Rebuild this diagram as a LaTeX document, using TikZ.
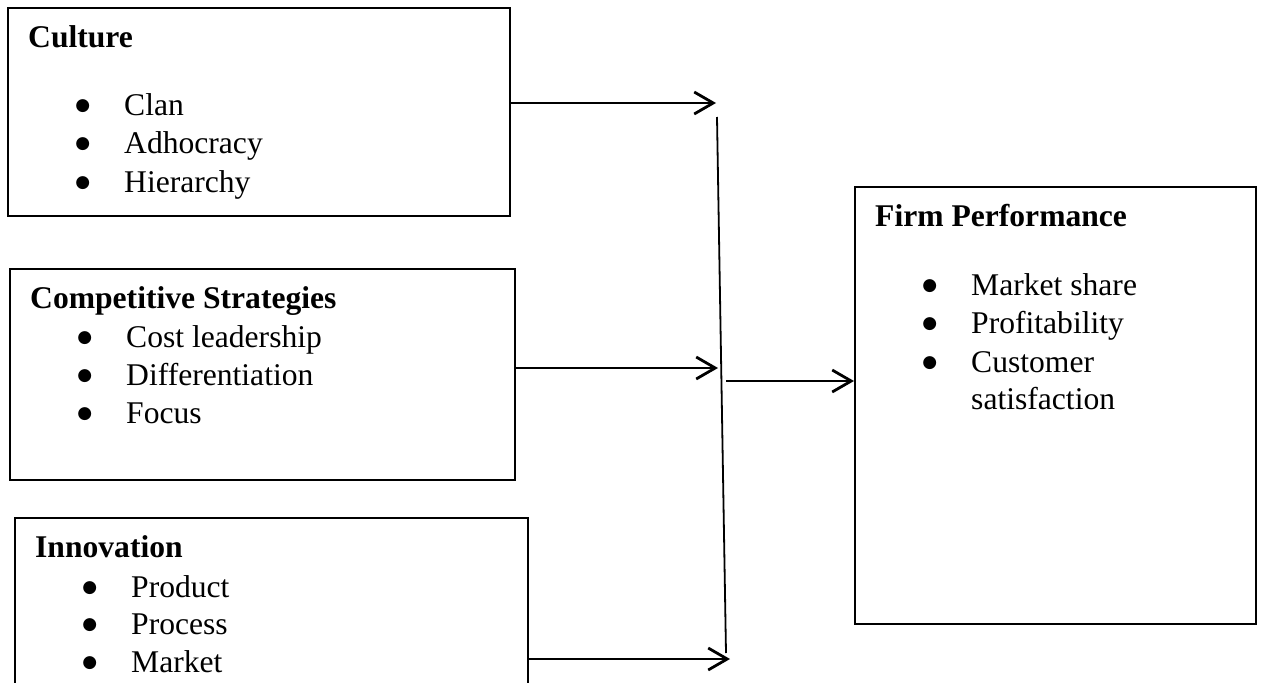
\documentclass[tikz,border=0pt]{standalone}
\usepackage{fontspec}
\setmainfont{Liberation Serif}
\newfontfamily\bulfont{DejaVu Sans}
\usetikzlibrary{arrows.meta}
\newcommand{\mybul}{\makebox[0pt]{\raisebox{4.5pt}{\bulfont\fontsize{17pt}{17pt}\selectfont ●}}\hspace{41.5pt}}
\begin{document}
\begin{tikzpicture}[x=1pt,y=-1pt,
  boxnode/.style={draw=black, line width=2.2pt, rectangle, anchor=north west, inner sep=0pt},
  headnode/.style={anchor=base west, inner sep=0pt, font=\fontsize{31.6pt}{38pt}\selectfont\bfseries},
  itemnode/.style={anchor=base west, inner sep=0pt, font=\fontsize{31.6pt}{38pt}\selectfont},
  conn/.style={line width=2.8pt, -{Straight Barb[length=19pt,width=22pt,line width=2.8pt]}},
  spine/.style={line width=1.8pt}
]
\clip (0,0) rectangle (1262,683);
\fill[white] (0,0) rectangle (1262,683);

% boxes
\node[boxnode, minimum width=502pt, minimum height=208pt] (cult) at (7,7) {};
\node[boxnode, minimum width=505pt, minimum height=211pt] (comp) at (9,268) {};
\node[boxnode, minimum width=513pt, minimum height=200pt] (innov) at (14,517) {};
\node[boxnode, minimum width=401pt, minimum height=437pt] (firm) at (854,186) {};

% Culture
\node[headnode] (cultH) at (28,47) {Culture};
\node[itemnode] (cult1) at (82.5,115) {\mybul Clan};
\node[itemnode] (cult2) at (82.5,153) {\mybul Adhocracy};
\node[itemnode] (cult3) at (82.5,192) {\mybul Hierarchy};

% Competitive strategies
\node[headnode] (compH) at (30,308) {Competitive Strategies};
\node[itemnode] (comp1) at (84.5,347) {\mybul Cost leadership};
\node[itemnode] (comp2) at (84.5,385) {\mybul Differentiation};
\node[itemnode] (comp3) at (84.5,423) {\mybul Focus};

% Innovation
\node[headnode] (innovH) at (35,557) {Innovation};
\node[itemnode] (innov1) at (89.5,597) {\mybul Product};
\node[itemnode] (innov2) at (89.5,634) {\mybul Process};
\node[itemnode] (innov3) at (89.5,672) {\mybul Market};

% Firm performance
\node[headnode] (firmH) at (875,226) {Firm Performance};
\node[itemnode] (firm1) at (929.5,295) {\mybul Market share};
\node[itemnode] (firm2) at (929.5,333) {\mybul Profitability};
\node[itemnode] (firm3) at (929.5,372) {\mybul Customer};
\node[itemnode] (firm4) at (971,409) {satisfaction};

% connector points
\coordinate (t1) at (716,103);
\coordinate (t2) at (718,368);
\coordinate (t3) at (730,659);
\coordinate (vtop) at (717,117);
\coordinate (vbot) at (726,653);
\coordinate (f0) at (726,381);

% connectors
\draw[conn] (cult.east |- t1) -- (t1);
\draw[conn] (comp.east |- t2) -- (t2);
\draw[conn] (innov.east |- t3) -- (t3);
\draw[spine] (vtop) -- (vbot);
\draw[conn] (f0) -- (firm.west |- f0);
\end{tikzpicture}
\end{document}
